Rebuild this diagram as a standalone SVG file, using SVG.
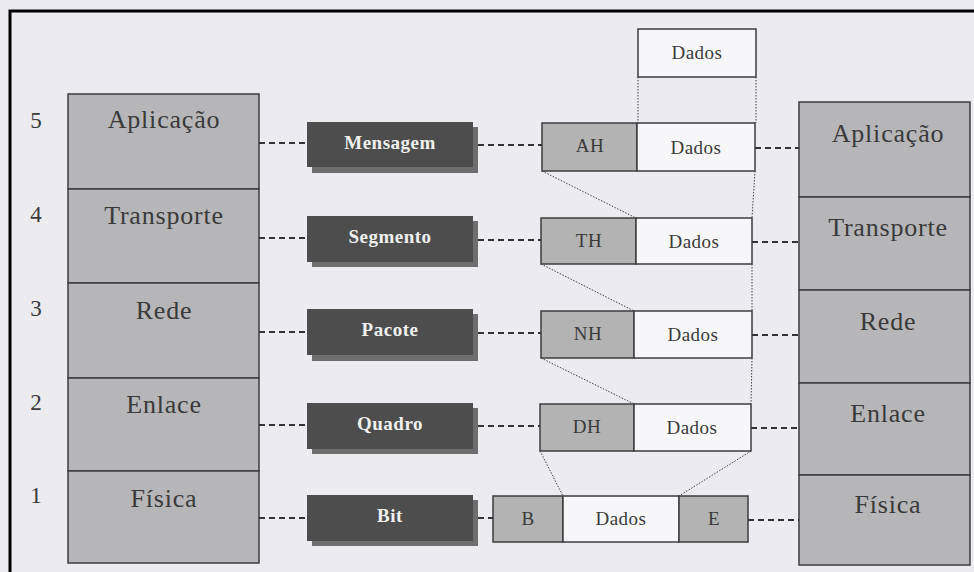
<svg xmlns="http://www.w3.org/2000/svg" width="974" height="572" viewBox="0 0 974 572">
<style>
.stack{fill:#b6b6b8;stroke:#3e3e3e;stroke-width:1.5}
.lbl{font-family:"Liberation Serif","DejaVu Serif",serif;font-size:26px;letter-spacing:0.8px;fill:#3a3a3a;text-anchor:middle}
.num{font-family:"Liberation Serif","DejaVu Serif",serif;font-size:23px;fill:#3a3a3a;text-anchor:middle}
.dark{fill:#4d4d4d}
.shadow{fill:#6e6e6e}
.dtxt{font-family:"Liberation Serif","DejaVu Serif",serif;font-size:19px;font-weight:bold;letter-spacing:0.5px;fill:#f0f0f0;text-anchor:middle}
.hdr{fill:#b3b3b3;stroke:#3e3e3e;stroke-width:1.5}
.dat{fill:#f7f7f9;stroke:#3e3e3e;stroke-width:1.5}
.ptxt{font-family:"Liberation Serif","DejaVu Serif",serif;font-size:19px;letter-spacing:0.5px;fill:#3a3a3a;text-anchor:middle}
.dash{stroke:#333;stroke-width:2;stroke-dasharray:6,4;fill:none}
.dot{stroke:#444;stroke-width:1;stroke-dasharray:1.5,1.5;fill:none}
</style>
<rect x="0" y="0" width="974" height="572" fill="#ebebf0"/>
<path d="M10,572 V11 H974" fill="none" stroke="#000" stroke-width="3"/>

<g id="left-stack">
<rect class="stack" x="68" y="94" width="191" height="95"/>
<rect class="stack" x="68" y="189" width="191" height="94"/>
<rect class="stack" x="68" y="283" width="191" height="95"/>
<rect class="stack" x="68" y="378" width="191" height="93"/>
<rect class="stack" x="68" y="471" width="191" height="92"/>
<text class="lbl" x="164" y="128">Aplicação</text>
<text class="lbl" x="164" y="224">Transporte</text>
<text class="lbl" x="164" y="319">Rede</text>
<text class="lbl" x="164" y="413">Enlace</text>
<text class="lbl" x="164" y="507">Física</text>
</g>
<g id="numbers">
<text class="num" x="36" y="128">5</text>
<text class="num" x="36" y="222">4</text>
<text class="num" x="36" y="316">3</text>
<text class="num" x="36" y="410">2</text>
<text class="num" x="36" y="503">1</text>
</g>

<g id="right-stack">
<rect class="stack" x="799" y="102" width="171" height="95"/>
<rect class="stack" x="799" y="197" width="171" height="93"/>
<rect class="stack" x="799" y="290" width="171" height="93"/>
<rect class="stack" x="799" y="383" width="171" height="92"/>
<rect class="stack" x="799" y="475" width="171" height="90"/>
<text class="lbl" x="888" y="142">Aplicação</text>
<text class="lbl" x="888" y="236">Transporte</text>
<text class="lbl" x="888" y="330">Rede</text>
<text class="lbl" x="888" y="422">Enlace</text>
<text class="lbl" x="888" y="513">Física</text>
</g>

<g id="pdu-mensagem">
<rect class="shadow" x="312" y="127" width="166" height="46"/>
<rect class="dark" x="307" y="122" width="166" height="45"/>
<text class="dtxt" x="390" y="149">Mensagem</text>
</g>
<g id="pdu-segmento">
<rect class="shadow" x="312" y="221" width="166" height="46"/>
<rect class="dark" x="307" y="216" width="166" height="46"/>
<text class="dtxt" x="390" y="243">Segmento</text>
</g>
<g id="pdu-pacote">
<rect class="shadow" x="312" y="314" width="166" height="47"/>
<rect class="dark" x="307" y="309" width="166" height="46"/>
<text class="dtxt" x="390" y="336">Pacote</text>
</g>
<g id="pdu-quadro">
<rect class="shadow" x="312" y="408" width="166" height="46"/>
<rect class="dark" x="307" y="403" width="166" height="46"/>
<text class="dtxt" x="390" y="430">Quadro</text>
</g>
<g id="pdu-bit">
<rect class="shadow" x="312" y="500" width="166" height="46"/>
<rect class="dark" x="307" y="495" width="166" height="46"/>
<text class="dtxt" x="390" y="522">Bit</text>
</g>

<g id="data-top">
<rect class="dat" x="638" y="29" width="118" height="48"/>
<text class="ptxt" x="697" y="59">Dados</text>
</g>
<g id="packet-ah">
<rect class="hdr" x="542" y="123" width="95" height="48"/>
<rect class="dat" x="637" y="123" width="118" height="48"/>
<text class="ptxt" x="590" y="152">AH</text>
<text class="ptxt" x="696" y="154">Dados</text>
</g>
<g id="packet-th">
<rect class="hdr" x="541" y="218" width="95" height="46"/>
<rect class="dat" x="636" y="218" width="116" height="46"/>
<text class="ptxt" x="589" y="247">TH</text>
<text class="ptxt" x="694" y="248">Dados</text>
</g>
<g id="packet-nh">
<rect class="hdr" x="541" y="311" width="93" height="47"/>
<rect class="dat" x="634" y="311" width="118" height="47"/>
<text class="ptxt" x="588" y="340">NH</text>
<text class="ptxt" x="693" y="341">Dados</text>
</g>
<g id="packet-dh">
<rect class="hdr" x="540" y="404" width="94" height="47"/>
<rect class="dat" x="634" y="404" width="117" height="47"/>
<text class="ptxt" x="587" y="433">DH</text>
<text class="ptxt" x="692" y="434">Dados</text>
</g>
<g id="packet-bit">
<rect class="hdr" x="493" y="496" width="70" height="46"/>
<rect class="dat" x="563" y="496" width="116" height="46"/>
<rect class="hdr" x="679" y="496" width="69" height="46"/>
<text class="ptxt" x="528" y="525">B</text>
<text class="ptxt" x="621" y="525">Dados</text>
<text class="ptxt" x="714" y="525">E</text>
</g>

<g id="connectors">
<path class="dash" d="M259,143 H307 M259,238 H307 M259,332 H307 M259,425 H307 M259,518 H307"/>
<path class="dash" d="M478,145 H542 M478,240 H541 M478,333 H541 M478,426 H540 M478,518 H493"/>
<path class="dash" d="M755,148 H799 M752,242 H799 M752,335 H799 M751,428 H799 M748,520 H799"/>
<path class="dot" d="M638,77 V123 M756,77 V123 M755,171 L752,218 M752,264 V311 M752,358 L751,404"/>
<path class="dot" d="M542,171 L636,218 M541,264 L634,311 M541,358 L634,404 M540,451 L563,496 M751,451 L679,496"/>
</g>
</svg>
